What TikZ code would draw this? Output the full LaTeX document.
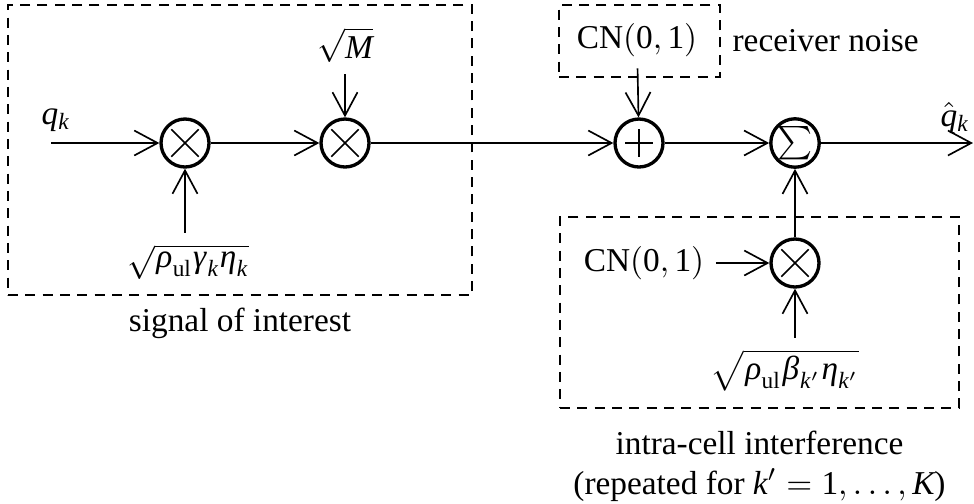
\documentclass[tikz,border=0pt]{standalone}
\usepackage{mathspec}
\setmainfont{Liberation Serif}
\setmathsfont(Digits,Latin)[Uppercase=Italic,Lowercase=Italic]{Liberation Serif}
\setmathsfont(Greek)[Uppercase=Regular,Lowercase=Italic]{Liberation Serif}
\setmathrm{Liberation Serif}
\usetikzlibrary{arrows.meta,positioning,fit}

\begin{document}
\begin{tikzpicture}[x=0.3pt,y=-0.3pt,
    op/.style={circle,draw,line width=1pt,minimum size=14.4pt,inner sep=0pt},
    mul/.style={op,path picture={\draw[line width=0.5pt] (path picture bounding box.center) ++(-4.1pt,-4.1pt) -- ++(8.2pt,8.2pt) ++(-8.2pt,0) -- ++(8.2pt,-8.2pt);}},
    add/.style={op,path picture={\draw[line width=0.5pt] (path picture bounding box.center) ++(-4.1pt,0) -- ++(8.2pt,0) ++(-4.1pt,-4.1pt) -- ++(0,8.2pt);}},
    sig/.style={-{Straight Barb[length=7pt,width=7.5pt]},line width=0.5pt},
    grp/.style={draw,line width=0.5pt,dash pattern=on 3pt off 2.2pt,inner sep=0pt}]
    \useasboundingbox (0,0) rectangle (974,503);
    % operators on the main path
    \node[mul] (m1) at (185,143) {};
    \node[mul] (m2) at (345,143) {};
    \node[add] (ad) at (639,143) {};
    \node[op] (sm) at (795,143) {$\sum$};
    \node[mul] (m3) at (795,263) {};
    \coordinate (in) at (51,143);
    \coordinate (out) at (973,143);
    % inputs and labels
    \node (q) at (56,120) {$q_k$};
    \node (qh) at (955,118) {$\hat{q}_k$};
    \node (sqM) at (345,45) {$\sqrt{M}$};
    \node (g1) at (188,262) {$\sqrt{\rho_{\mathrm{ul}}\gamma_k\eta_k}$};
    \node (n1) at (637,40) {CN$(0, 1)$};
    \node (n2) at (644,263) {CN$(0, 1)$};
    \node (g2) at (785,370) {$\sqrt{\rho_{\mathrm{ul}}\beta_{k'}\eta_{k'}}$};
    % dashed groups
    \node[grp,fit={(8,5) (472,295)}] (sbox) {};
    \node[grp,fit={(559,5) (720,77)}] (nbox) {};
    \node[grp,fit={(560,217) (959,408)}] (ibox) {};
    \node[right=0pt of nbox] (rn) {receiver noise};
    \node[below=0pt of sbox] (slab) {signal of interest};
    \node[below=3pt of ibox,align=center] (ilab) {intra-cell interference\\(repeated for $k'=1,\ldots,K$)};
    % connections
    \draw[sig] (in) -- (m1);
    \draw[sig] (m1) -- (m2);
    \draw[sig] (m2) -- (ad);
    \draw[sig] (ad) -- (sm);
    \draw[sig] (sm) -- (out);
    \draw[sig] (sqM) -- (m2);
    \draw[sig] (m1 |- g1.north) -- (m1);
    \draw[sig] (n1) -- (ad);
    \draw[sig] (n2) -- (m3);
    \draw[sig] (m3 |- g2.north) -- (m3);
    \draw[sig] (m3) -- (sm);
\end{tikzpicture}
\end{document}
